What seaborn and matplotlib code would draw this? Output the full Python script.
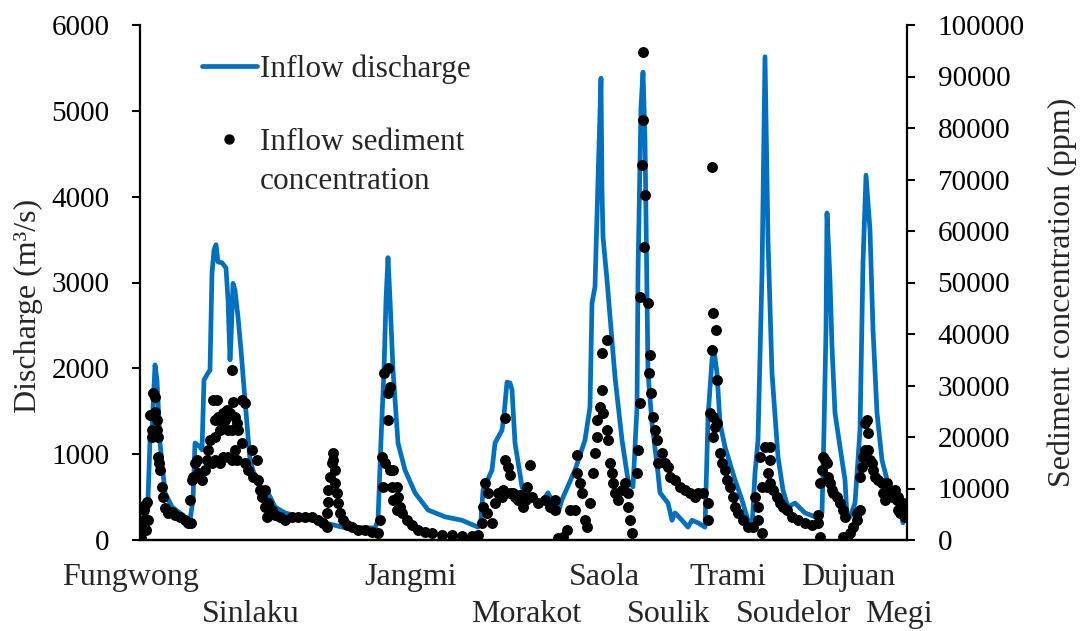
import matplotlib
matplotlib.use("Agg")
import matplotlib.pyplot as plt
from matplotlib.lines import Line2D
import seaborn as sns
import pandas as pd

# Hourly inflow discharge (m3/s) through the ten typhoon events
hours_q = [0, 2, 5, 8, 10, 12, 15, 17, 20, 25, 32, 45, 50, 53, 55, 60, 62, 64, 68, 70,
           72, 74, 76, 78, 82, 86, 88, 90, 91, 93, 95, 98, 101, 105, 110, 117, 128, 135, 145, 160,
           180, 185, 202, 235, 238, 241, 244, 246, 248, 250, 253, 258, 265, 275, 288, 305, 322, 338, 341, 343,
           352, 355, 362, 364, 367, 370, 372, 375, 382, 388, 395, 400, 408, 413, 418, 422, 425, 435, 445, 450,
           452, 455, 458, 461, 462, 463, 467, 475, 482, 488, 493, 497, 498, 501, 503, 505, 507, 508, 512, 518,
           520, 528, 532, 535, 542, 548, 552, 558, 565, 568, 572, 574, 577, 580, 585, 595, 602, 608, 612, 615,
           618, 622, 625, 628, 632, 638, 643, 648, 655, 665, 675, 682, 684, 686, 687, 690, 692, 695, 700, 705,
           707, 710, 715, 720, 723, 726, 730, 733, 737, 742, 748, 755, 760, 763]
discharge = [90, 140, 200, 470, 1165, 1280, 2040, 1860, 1130, 550, 385, 270, 230, 470, 1130, 1085, 1050, 1865, 1945, 1980,
             3110, 3380, 3440, 3240, 3230, 3170, 2800, 2100, 2330, 2990, 2910, 2600, 2210, 1630, 930, 660, 550, 385, 315, 270,
             230, 200, 150, 140, 230, 1165, 1980, 2800, 3290, 2800, 1980, 1130, 815, 550, 350, 270, 230, 150, 230, 580,
             815, 1130, 1280, 1455, 1840, 1830, 1750, 1130, 620, 430, 500, 410, 550, 430, 315, 470, 550, 815, 1165, 1550,
             2760, 2950, 4190, 5380, 4080, 3530, 3030, 1900, 1165, 700, 620, 1550, 3110, 5045, 5450, 4660, 2800, 1945, 1360, 780,
             550, 430, 230, 315, 230, 150, 230, 200, 150, 1430, 2100, 2210, 1945, 1360, 1085, 700, 465, 230, 150, 780,
             1165, 3110, 5630, 3495, 1945, 970, 580, 385, 430, 315, 270, 315, 1280, 2450, 3810, 3030, 2250, 1480, 1085, 700,
             270, 270, 430, 1280, 3230, 4250, 3610, 2450, 1480, 930, 660, 500, 350, 200]

# Sampled inflow sediment concentration (ppm)
hours_c = [1, 2, 3, 4, 5, 6, 7, 8, 10, 12, 12, 13, 15, 15, 17, 17, 18, 18, 19, 20,
           22, 23, 25, 28, 32, 35, 40, 45, 48, 51,
           50, 52, 53, 55, 57, 58, 62, 65, 67, 68, 70, 72, 73, 75, 75, 75, 77, 78, 80, 80,
           82, 83, 83, 85, 87, 88, 88, 90, 92, 92, 92, 93, 95, 95, 97, 97, 98, 102, 102, 105,
           105, 108, 112, 113, 117, 118, 120, 122, 125, 125, 127, 128, 132, 135, 140, 145, 152, 158, 165, 172,
           178, 183,
           187, 187, 188, 188, 190, 192, 193, 193, 195, 195, 197, 198, 200, 203, 207, 212, 218, 225, 232, 238,
           240, 242, 243, 244, 245, 248, 248, 248, 250, 250, 252, 253, 253, 257, 257, 258, 260, 262, 267, 272,
           278, 285, 292, 302, 312, 322, 332, 338,
           342, 343, 345, 347, 348, 352, 355, 358, 360, 362, 363, 365, 365, 368, 370, 370, 373, 375, 378, 380,
           383, 385, 387, 388, 390,
           392, 398, 405, 410, 415, 415, 418, 423, 427, 430, 435, 437, 437, 440, 442, 445, 447, 450, 453, 455,
           457, 457, 460, 462, 462, 463, 467, 467, 468, 470, 472, 473, 475, 478, 482, 485, 488, 488, 490, 492,
           497, 498, 500, 500, 502, 503, 503, 504, 505, 508, 509, 510, 511, 513, 515, 517, 518, 522, 525, 528,
           530, 535, 540, 545, 550, 555, 558, 563, 568, 568,
           570, 572, 572, 573, 573, 573, 575, 576, 577, 577, 580, 582, 585, 587, 590, 593, 595, 598, 603, 608,
           613,
           615, 618, 618, 620, 622, 622, 625, 627, 628, 630, 630, 630, 633, 637, 640, 643, 647,
           652, 658, 665, 672, 678, 678, 680, 680, 682, 683, 685, 687, 688, 690, 692, 693, 697, 700, 703, 703,
           705, 707, 710, 713, 717, 717, 720, 720, 722, 723, 725, 725, 727, 728, 728, 730, 732, 733, 735, 738,
           742, 743, 745, 747, 750, 752, 755, 757, 758, 758, 760, 762, 763, 765]
sediment = [400, 1900, 3900, 5800, 6800, 1900, 7400, 3900, 24300, 21400, 20000, 28500, 27800, 24900, 21400, 23300, 20000, 16100, 15000, 13600,
            10300, 8400, 6200, 5200, 5400, 4900, 4500, 3900, 3300, 3300,
            7800, 11700, 12200, 15000, 15500, 13000, 11700, 13600, 15500, 17500, 19400, 15000, 27200, 23300, 20000, 15500, 27200, 23900, 21400, 15000,
            22700, 24700, 16100, 23300, 25200, 21400, 16100, 24700, 33000, 21400, 15500, 26800, 23900, 17500, 22700, 15500, 21400, 27200, 18800, 26600,
            15000, 13600, 17500, 12200, 15500, 11700, 9700, 8400, 6400, 9700, 4500, 7200, 5800, 4900, 4500, 3900, 4500, 4500, 4500, 4500,
            3900, 3300,
            2500, 5200, 7400, 9700, 12200, 15000, 16900, 15500, 13600, 11100, 9100, 7200, 5200, 3900, 2900, 2500, 1900, 1900, 1600, 1400,
            3900, 16100, 10300, 32400, 15000, 33400, 28500, 23300, 29700, 13600, 10300, 13600, 7800, 10300, 5800, 8400, 6400, 5200, 3900, 2900,
            1900, 1600, 1400, 1000, 1000, 800, 800, 1000,
            3300, 6400, 11100, 5200, 9100, 3300, 7200, 9100, 9100, 8400, 9700, 15500, 23700, 14200, 12600, 9100, 9100, 8400, 7800, 8700,
            6400, 7800, 10300, 8400, 14600,
            8400, 7200, 7800, 6400, 7800, 5800, 300, 600, 1900, 5800, 5800, 13000, 16500, 11100, 9100, 3900, 2500, 7200, 13000, 16900,
            20000, 23300, 25800, 29100, 36300, 24700, 38800, 21400, 19400, 15000, 13000, 11100, 9100, 7800, 9700, 11100, 9100, 6400, 3900, 1400,
            13000, 17500, 26600, 47200, 72800, 94800, 81600, 56900, 67000, 46000, 32400, 35900, 28500, 23900, 21400, 19400, 15000, 16900, 15000, 14200,
            12200, 11700, 10300, 9700, 9100, 8400, 9100, 9100, 7200, 3900,
            24700, 72400, 36900, 44100, 23900, 20000, 21900, 40800, 31100, 22700, 16900, 15000, 13600, 11700, 10300, 8400, 6400, 5200, 3900, 2500,
            2500,
            8400, 6400, 3900, 16100, 1400, 10300, 18100, 10300, 13000, 18100, 15500, 11100, 9700, 8400, 7200, 6400, 5800,
            4500, 3900, 3300, 2900, 3300, 4900, 600, 11100, 13600, 16100, 15500, 15000, 12200, 11100, 9700, 9100, 8400, 7200, 5800, 600,
            4500, 600, 1400, 2500, 3900, 5200, 5800, 12200, 14200, 16100, 17500, 22700, 23300, 20800, 17500, 15500, 15000, 13600, 12200, 11700,
            11100, 9100, 7800, 11100, 9700, 8400, 9700, 7800, 5800, 8400, 5200, 6400, 7200, 4500]

# Typhoon names set under the time axis, in two staggered rows
typhoons_upper = ["Fungwong", "Jangmi", "Saola", "Trami", "Dujuan"]
typhoons_upper_hour = [-9, 271, 464, 588, 708]
typhoons_lower = ["Sinlaku", "Morakot", "Soulik", "Soudelor", "Megi"]
typhoons_lower_hour = [111, 386, 529, 654, 759]

q_ticks = [0, 1000, 2000, 3000, 4000, 5000, 6000]
c_ticks = [0, 10000, 20000, 30000, 40000, 50000, 60000, 70000, 80000, 90000, 100000]

BLUE = "#0070C0"

flow = pd.DataFrame({"hour": hours_q, "discharge": discharge})
sed = pd.DataFrame({"hour": hours_c, "sediment": sediment})

sns.set_style("ticks")
plt.rcParams["font.family"] = ["Liberation Serif", "DejaVu Serif"]

fig = plt.figure(figsize=(10.8, 6.31), dpi=100)
ax = fig.add_axes([140 / 1080, 1 - 540 / 631, 767 / 1080, 515 / 631])
ax2 = ax.twinx()

sns.lineplot(data=flow, x="hour", y="discharge", ax=ax, color=BLUE,
             linewidth=3.4, estimator=None, sort=False, legend=False)
sns.scatterplot(data=sed, x="hour", y="sediment", ax=ax2, color="black",
                s=62, linewidth=0, legend=False, zorder=3)

ax.set_xlim(0, 767)
ax.set_ylim(0, 6000)
ax2.set_ylim(0, 100000)
ax.set_yticks(q_ticks)
ax.set_yticklabels([str(v) for v in q_ticks])
ax2.set_yticks(c_ticks)
ax2.set_yticklabels([str(v) for v in c_ticks])

ax.tick_params(axis="x", bottom=False, labelbottom=False)
ax2.tick_params(axis="x", bottom=False, labelbottom=False)
ax.tick_params(axis="y", direction="out", length=6, width=1.5, pad=16,
               labelsize=21, colors="black")
ax2.tick_params(axis="y", direction="out", length=6, width=1.5, pad=16,
                labelsize=21, colors="black")

for a in (ax, ax2):
    a.spines["top"].set_visible(False)
    for s in ("left", "right", "bottom"):
        a.spines[s].set_linewidth(1.6)
        a.spines[s].set_color("black")
ax.spines["right"].set_visible(False)
ax2.spines["left"].set_visible(False)

ax.set_xlabel("")
ax2.set_xlabel("")
ax.set_ylabel("Discharge (m³/s)", fontsize=23)
ax.yaxis.label.set_verticalalignment("center")
ax.yaxis.set_label_coords(-0.146, 0.454)
ax2.set_ylabel("Sediment concentration (ppm)", fontsize=23, rotation=90)
ax2.yaxis.label.set_verticalalignment("center")
ax2.yaxis.set_label_coords(1.202, 0.48)

trans = ax.get_xaxis_transform()
for name, h in zip(typhoons_upper, typhoons_upper_hour):
    ax.text(h, -0.0874, name, transform=trans, ha="center", va="baseline",
            fontsize=23, clip_on=False)
for name, h in zip(typhoons_lower, typhoons_lower_hour):
    ax.text(h, -0.159, name, transform=trans, ha="center", va="baseline",
            fontsize=23, clip_on=False)

# Legend: the discharge entry, then the two-line sediment entry with its dot
# beside the first line
legend_style = dict(loc="upper left", frameon=False, fontsize=22.5,
                    handlelength=1.75, handletextpad=0.1,
                    borderpad=0, borderaxespad=0)
line_handle = Line2D([], [], color=BLUE, linewidth=3.4)
leg_flow = ax2.legend([line_handle], ["Inflow discharge"],
                      bbox_to_anchor=(62 / 767, 486 / 515), **legend_style)
ax2.add_artist(leg_flow)

dot_handle = Line2D([], [], color="black", marker="o", linestyle="none", markersize=6.5)
blank_handle = Line2D([], [], linestyle="none")
ax2.legend([dot_handle, blank_handle], ["Inflow sediment", "concentration"],
           bbox_to_anchor=(62 / 767, 412 / 515), labelspacing=0.32,
           **legend_style)

fig.savefig("out.png", dpi=100)
